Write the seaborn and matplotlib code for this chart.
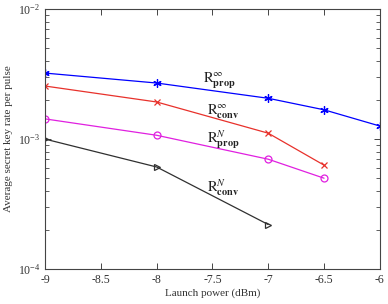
import numpy as np
import pandas as pd
import matplotlib
matplotlib.use("Agg")
import matplotlib.pyplot as plt
import seaborn as sns
from matplotlib.ticker import LogLocator, NullFormatter

# data
power_prop_inf = [-9, -8, -7, -6.5, -6]
rate_prop_inf = [3.22e-3, 2.70e-3, 2.06e-3, 1.68e-3, 1.26e-3]
power_conv_inf = [-9, -8, -7, -6.5]
rate_conv_inf = [2.56e-3, 1.93e-3, 1.11e-3, 6.3e-4]
power_prop_n = [-9, -8, -7, -6.5]
rate_prop_n = [1.43e-3, 1.07e-3, 7.0e-4, 5.0e-4]
power_conv_n = [-9, -8, -7]
rate_conv_n = [1.0e-3, 6.1e-4, 2.2e-4]

xticks = [-9, -8.5, -8, -7.5, -7, -6.5, -6]
xtick_labels = ['-9', '-8.5', '-8', '-7.5', '-7', '-6.5', '-6']

sns.set_theme(style="white")
plt.rcParams['font.family'] = ['Liberation Serif', 'DejaVu Serif']
plt.rcParams['mathtext.fontset'] = 'stix'

fig = plt.figure(figsize=(3.88, 3.04), dpi=100)
ax = fig.add_axes([0.116, 0.115, 0.863, 0.855])

series = [
    (power_prop_inf, rate_prop_inf, 'blue', (6, 2, 0)),
    (power_conv_inf, rate_conv_inf, '#e8312b', 'x'),
    (power_prop_n, rate_prop_n, '#e020e0', 'o'),
    (power_conv_n, rate_conv_n, '#303030', '>'),
]
for xs, ys, c, m in series:
    df = pd.DataFrame({'x': xs, 'y': ys})
    face = 'none' if m in ('o', '>') else c
    sns.lineplot(data=df, x='x', y='y', ax=ax, color=c, marker=m, lw=0.9,
                 markersize=6 if m == (6, 2, 0) else 5, markerfacecolor=face,
                 markeredgecolor=c, markeredgewidth=0.9)

ax.set_yscale('log')
ax.set_xlim(-9, -6)
ax.set_ylim(1e-4, 1e-2)
ax.set_xticks(xticks)
ax.set_xticklabels(xtick_labels)
ax.yaxis.set_major_locator(LogLocator(base=10, numticks=5))
ax.yaxis.set_minor_locator(LogLocator(base=10, subs=(2, 3, 4, 5, 6, 7, 8, 9), numticks=12))
ax.yaxis.set_minor_formatter(NullFormatter())
ax.tick_params(which='both', direction='in', top=True, right=True, left=True,
               bottom=True, labelsize=8.5, color='#444444', labelcolor='#333333')
ax.tick_params(which='major', length=4.5, width=0.7)
ax.tick_params(axis='y', which='minor', length=3, width=0.6, left=True, right=True)
ax.tick_params(axis='x', which='minor', bottom=False, top=False)
for s in ax.spines.values():
    s.set_color('#444444')
    s.set_linewidth(0.8)

ax.set_xlabel('Launch power (dBm)', fontsize=8, labelpad=2, color='#333333')
ax.set_ylabel('Average secret key rate per pulse', fontsize=8, labelpad=3,
              color='#333333')

lab = dict(fontsize=10.5, va='baseline', color='#222222')
ax.text(-7.585, 2.7e-3, r'$\mathrm{R}^{\infty}_{\mathbf{prop}}$', **lab)
ax.text(-7.55, 1.55e-3, r'$\mathrm{R}^{\infty}_{\mathbf{conv}}$', **lab)
ax.text(-7.55, 9.3e-4, r'$\mathrm{R}^{N}_{\mathbf{prop}}$', **lab)
ax.text(-7.55, 3.9e-4, r'$\mathrm{R}^{N}_{\mathbf{conv}}$', **lab)

fig.savefig('out.png', dpi=100)
